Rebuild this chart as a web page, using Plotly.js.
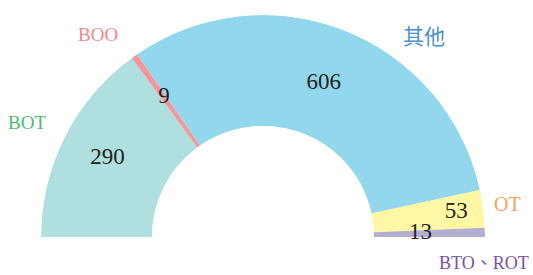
<!DOCTYPE html>
<html><head><meta charset="utf-8">
<script src="https://cdn.plot.ly/plotly-3.0.1.min.js"></script>
<style>html,body{margin:0;padding:0;background:#fff}#chart{width:533px;height:275px}</style>
</head><body><div id="chart"></div>
<script>
const categories = ['BOT', 'BOO', '其他', 'OT', 'BTO、ROT'];
const values = [290, 9, 606, 53, 13];
const sliceColors = ['#b0dfdf', '#f4959a', '#93d7ec', '#fff7a3', '#b4aed0'];
const labelColors = ['#4dba6e', '#f4868e', '#4a8fcf', '#f7a060', '#7a50a8'];

const total = values.reduce((a, b) => a + b, 0);
let cum = 0;
const thetas = [], widths = [];
values.forEach(v => { thetas.push((cum + v / 2) / total * 180); widths.push(v / total * 180); cum += v; });

const valueR = [0.571, 0.54, 0.49, 0.755, 0.42];
// category label anchor positions (paper coords)
const labelPos = [[-0.0315, 0.514], [0.1295, 0.910], [0.862, 0.901], [1.050, 0.149], [1.1036, -0.117]];
const labelAnchor = ['center', 'center', 'center', 'center', 'right'];
const labelSize = [19, 19, 21, 20, 18];

const serif = 'Liberation Serif, Noto Sans CJK TC, serif';

const data = [
  {
    type: 'barpolar',
    r: values.map(() => 1),
    theta: thetas,
    width: widths,
    marker: { color: sliceColors, line: { width: 0 } },
    hoverinfo: 'skip',
    showlegend: false
  },
  {
    type: 'scatterpolar',
    mode: 'text',
    r: valueR,
    theta: thetas,
    text: values.map(String),
    textposition: 'middle center',
    textfont: { family: serif, size: 23, color: '#222222' },
    cliponaxis: false,
    hoverinfo: 'skip',
    showlegend: false
  }
];

const layout = {
  width: 533, height: 275,
  margin: { l: 41, r: 48, t: 15, b: 38, pad: 0 },
  paper_bgcolor: '#ffffff',
  showlegend: false,
  polar: {
    domain: { x: [0, 1], y: [0, 1] },
    sector: [0, 180],
    hole: 0.5,
    bgcolor: 'rgba(0,0,0,0)',
    bargap: 0,
    radialaxis: { visible: false, range: [0, 1] },
    angularaxis: { visible: false, direction: 'clockwise', rotation: 180 }
  },
  annotations: categories.map((c, i) => ({
    text: c, xref: 'paper', yref: 'paper',
    x: labelPos[i][0], y: labelPos[i][1],
    xanchor: labelAnchor[i], yanchor: 'middle', showarrow: false,
    font: { family: serif, size: labelSize[i], color: labelColors[i] }
  }))
};

Plotly.newPlot('chart', data, layout, { displayModeBar: false, staticPlot: true });
</script>
</body></html>
